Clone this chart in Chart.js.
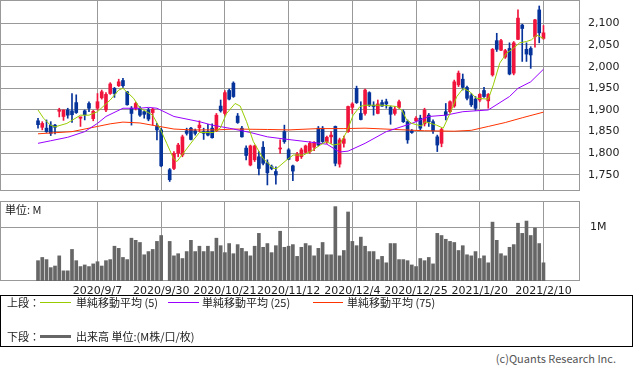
<!doctype html>
<html lang="ja">
<head>
<meta charset="UTF-8">
<title>株価チャート</title>
<script src="https://cdn.jsdelivr.net/npm/chart.js"></script>
<style>
  body { margin: 0; background: #fff; }
  #wrap { position: relative; width: 633px; height: 373px; font-family: "Noto Sans CJK JP", "DejaVu Sans", sans-serif; color: #222; }
  #price { position: absolute; left: 0; top: 0; }
  #volume { position: absolute; left: 0; top: 201px; }
  .txt { position: absolute; font-size: 11px; line-height: 13px; white-space: nowrap; }
  .ln { position: absolute; height: 1px; }
  #legend { position: absolute; left: 0; top: 295px; width: 631px; height: 50px; border: 1px solid #000; }
</style>
</head>
<body>
<div id="wrap">
  <canvas id="price" width="633" height="191"></canvas>
  <canvas id="volume" width="633" height="97"></canvas>
  <div class="txt" style="left:5px; top:203px;">単位: M</div>

  <div id="legend"></div>
  <div class="txt" style="left:7px; top:296px;">上段：</div>
  <div class="ln" style="left:40px; top:302px; width:31px; background:#99cc00;"></div>
  <div class="txt" style="left:76px; top:296px;">単純移動平均 (5)</div>
  <div class="ln" style="left:168px; top:302px; width:31px; background:#9900ff;"></div>
  <div class="txt" style="left:202px; top:296px;">単純移動平均 (25)</div>
  <div class="ln" style="left:313px; top:302px; width:30px; background:#ff3300;"></div>
  <div class="txt" style="left:347px; top:296px;">単純移動平均 (75)</div>
  <div class="txt" style="left:7px; top:330px;">下段：</div>
  <div class="ln" style="left:40px; top:335px; width:31px; height:3px; background:#666;"></div>
  <div class="txt" style="left:76px; top:330px;">出来高 単位:(M株/口/枚)</div>

  <div class="txt" style="right:17px; top:352px; color:#555;">(c)Quants Research Inc.</div>
</div>

<script>
// 日付（取引日、10/1 は売買停止）
const dates = [
  '2020/8/18','2020/8/19','2020/8/20','2020/8/21','2020/8/24','2020/8/25','2020/8/26','2020/8/27','2020/8/28','2020/8/31',
  '2020/9/1','2020/9/2','2020/9/3','2020/9/4','2020/9/7','2020/9/8','2020/9/9','2020/9/10','2020/9/11','2020/9/14',
  '2020/9/15','2020/9/16','2020/9/17','2020/9/18','2020/9/23','2020/9/24','2020/9/25','2020/9/28','2020/9/29','2020/9/30',
  '2020/10/1','2020/10/2','2020/10/5','2020/10/6','2020/10/7','2020/10/8','2020/10/9','2020/10/12','2020/10/13','2020/10/14',
  '2020/10/15','2020/10/16','2020/10/19','2020/10/20','2020/10/21','2020/10/22','2020/10/23','2020/10/26','2020/10/27','2020/10/28',
  '2020/10/29','2020/10/30','2020/11/2','2020/11/4','2020/11/5','2020/11/6','2020/11/9','2020/11/10','2020/11/11','2020/11/12',
  '2020/11/13','2020/11/16','2020/11/17','2020/11/18','2020/11/19','2020/11/20','2020/11/24','2020/11/25','2020/11/26','2020/11/27',
  '2020/11/30','2020/12/1','2020/12/2','2020/12/3','2020/12/4','2020/12/7','2020/12/8','2020/12/9','2020/12/10','2020/12/11',
  '2020/12/14','2020/12/15','2020/12/16','2020/12/17','2020/12/18','2020/12/21','2020/12/22','2020/12/23','2020/12/24','2020/12/25',
  '2020/12/28','2020/12/29','2020/12/30','2021/1/4','2021/1/5','2021/1/6','2021/1/7','2021/1/8','2021/1/12','2021/1/13',
  '2021/1/14','2021/1/15','2021/1/18','2021/1/19','2021/1/20','2021/1/21','2021/1/22','2021/1/25','2021/1/26','2021/1/27',
  '2021/1/28','2021/1/29','2021/2/1','2021/2/2','2021/2/3','2021/2/4','2021/2/5','2021/2/8','2021/2/9','2021/2/10'
];

const open = [1875,1860,1858,1865,1865, 1897,1885,1900,1898,1917, 1881,1898,1915,1880,1904, 1928,1900,1938,1950,1956,
  1968,1942,1904,1904,1904, 1896,1900,1894,1862,1854, null,1762,1765,1800,1796, 1852,1858,1852,1859,1850,
  1850,1858,1852,1909,1892, 1945,1962,1886,1858,1812, 1773,1785,1792,1814,1778, 1769,1758,1810,1850,1808,
  1771,1783,1792,1802,1804, 1814,1858,1858,1827,1838, 1862,1775,1823,1850,1906, 1950,1892,1892,1940,1911,
  1892,1917,1919,1906,1892, 1906,1896,1873,1852,1875, 1881,1868,1888,1873,1838, 1823,1896,1896,1909,1958,
  1971,1952,1933,1925,1923, 1945,1921,1981,2060,2038, 2022,2042,1985,2063,2096, 2040,2042,2069,2131,2065];
const high = [1881,1873,1877,1873,1867, 1904,1900,1904,1938,1935, 1884,1900,1919,1899,1938, 1946,1940,1963,1952,1971,
  1973,1943,1908,1918,1908, 1898,1904,1904,1869,1858, null,1765,1804,1823,1842, 1858,1860,1856,1875,1858,
  1867,1868,1892,1923,1945, 1948,1965,1892,1862,1817, 1819,1819,1804,1827,1785, 1773,1769,1831,1865,1811,
  1773,1802,1812,1819,1827, 1827,1862,1862,1840,1850, 1863,1835,1840,1909,1917, 1955,1919,1948,1942,1919,
  1923,1923,1925,1909,1908, 1923,1900,1877,1855,1885, 1888,1904,1892,1877,1842, 1858,1915,1921,1969,1990,
  1983,1955,1938,1931,1938, 1952,1938,2042,2077,2063, 2040,2055,2058,2131,2098, 2055,2046,2109,2140,2095];
const low = [1858,1854,1848,1841,1845, 1884,1876,1881,1871,1892, 1862,1877,1896,1875,1900, 1925,1896,1936,1929,1954,
  1952,1911,1865,1900,1885, 1881,1875,1865,1831,1769, null,1735,1762,1792,1792, 1842,1831,1842,1850,1832,
  1840,1835,1850,1895,1888, 1923,1929,1869,1837,1785, 1771,1781,1750,1773,1727, 1762,1729,1800,1823,1785,
  1737,1781,1788,1800,1800, 1806,1817,1825,1823,1823, 1771,1768,1814,1848,1892, 1915,1877,1888,1908,1888,
  1891,1908,1904,1867,1888, 1904,1871,1823,1846,1873, 1854,1863,1862,1846,1804, 1815,1877,1893,1906,1954,
  1946,1923,1908,1899,1919, 1929,1904,1978,2035,2037, 2019,1981,1981,2062,2012, 2012,1996,2045,2055,2063];
const close = [1866,1869,1850,1846,1860, 1900,1900,1888,1889,1894, 1884,1889,1904,1897,1919, 1942,1936,1960,1938,1965,
  1956,1912,1892,1915,1888, 1890,1879,1902,1854,1771, null,1739,1800,1819,1838, 1846,1832,1846,1865,1846,
  1842,1836,1888,1898,1940, 1925,1931,1871,1838,1795, 1817,1817,1765,1777,1755, 1765,1750,1812,1827,1786,
  1759,1798,1808,1817,1823, 1825,1819,1827,1837,1842, 1777,1831,1833,1908,1914, 1917,1878,1946,1911,1908,
  1914,1909,1914,1890,1902, 1919,1873,1831,1848,1881, 1858,1900,1873,1852,1819, 1855,1888,1919,1965,1985,
  1952,1927,1912,1904,1936, 1931,1936,2040,2040,2060, 2037,1983,2055,2112,2088, 2029,2027,2108,2078,2078];

// 出来高（M）
const volume = [0.38,0.44,0.40,0.25,0.28,0.47,0.19,0.19,0.59,0.38, 0.27,0.30,0.27,0.32,0.36,0.28,0.38,0.40,0.65,0.61,
  0.44,0.40,0.80,0.76,0.72,0.49,0.55,0.59,0.74,0.85, null,0.74,0.47,0.51,0.42,0.55,0.76,0.55,0.65,0.55,
  0.65,0.55,0.80,0.66,0.53,0.70,0.51,0.68,0.61,0.55, 0.47,0.65,0.89,0.63,0.70,0.53,0.66,0.93,0.63,0.65,
  0.68,0.46,0.63,0.70,0.66,0.47,0.61,0.72,0.49,0.49, 1.39,0.47,0.57,1.29,0.74,0.66,0.82,0.65,0.55,0.55,
  0.40,0.46,0.34,0.70,0.70,0.40,0.40,0.38,0.30,0.27, 0.42,0.38,0.44,0.32,0.89,0.85,0.78,0.74,0.72,0.57,
  0.66,0.49,0.47,0.55,0.42,0.47,0.34,1.10,0.76,0.51, 0.47,0.63,0.68,1.08,0.89,1.12,0.85,0.99,0.70,0.34];

// 移動平均（読み取り位置 = 日のインデックス）
const ma5X = [0,1.3,2.9,4,6.8,10,12,14,17,19,20,22.5,24,25.6,27,28.7,30.3,31.9,32.7,34.2,36.6,38,41.3,42.9,44.4,46.4,47.6,49.1,50.7,53,55.4,56.2,58.6,60.1,62.5,64.8,66.4,67.9,69.5,71.1,72.7,74.2,75.8,77,81.3,84.4,85.6,86.8,88,90.3,91.1,93.8,95.4,97,98.6,100.1,101.7,103.2,106,107.2,108.7,110.3,111.9,113.4,115,116.2,117.4,119];
const ma5Y = [1900,1881,1865,1861,1869,1888,1888,1896,1923,1946,1950,1927,1904,1896,1888,1858,1823,1788,1781,1800,1831,1848,1848,1858,1892,1915,1909,1873,1827,1788,1765,1765,1785,1796,1796,1808,1819,1827,1819,1822,1850,1888,1908,1911,1911,1908,1900,1877,1869,1863,1873,1865,1858,1892,1931,1950,1942,1927,1925,1958,2008,2031,2042,2055,2058,2062,2073,2065];
const ma25X = [0,3,7,11,14,16,20,24,26,28,32,38,41,45,50,54,58,64,68,71,73,77,82,88,92,96,100,103,106,111,113,116,119];
const ma25Y = [1823,1829,1837,1850,1869,1885,1904,1904,1906,1904,1885,1873,1865,1858,1848,1838,1833,1826,1821,1803,1805,1823,1850,1869,1885,1888,1896,1898,1900,1931,1950,1965,1994];
const ma75X = [0,8,14,17,20,24,28,32,36,42,46,54,59,66,72,77,84,91,98,102,106,110,114,119];
const ma75Y = [1845,1850,1862,1868,1872,1870,1863,1856,1854,1854,1856,1855,1854,1857,1857,1858,1855,1852,1851,1853,1862,1871,1882,1895];

const gridDays = [14, 29, 44, 59, 74, 89, 104, 119];
const priceTicks = [1750, 1800, 1850, 1900, 1950, 2000, 2050, 2100];

const RED = '#f0143c';
const BLUE = '#06339a';
const GRID = '#999999';
const X_MIN = -8.95, X_MAX = 127.6;

Chart.defaults.font.family = 'DejaVu Sans';
Chart.defaults.font.size = 11;
Chart.defaults.color = '#222';

// 枠線
const frame = {
    id: 'frame',
    beforeDatasetsDraw(chart) {
        const a = chart.chartArea, c = chart.ctx;
        c.save();
        c.strokeStyle = GRID;
        c.lineWidth = 1;
        c.strokeRect(a.left + 0.5, a.top + 0.5, a.right - a.left - 1, a.bottom - a.top - 1);
        c.restore();
    }
};

// 軸ラベルによる余白を消す
function noPad(a) {
    a.paddingTop = 0; a.paddingBottom = 0; a.paddingLeft = 0; a.paddingRight = 0;
}

const wicks = [], bodies = [], vols = [];
dates.forEach((d, i) => {
    if (open[i] == null) return;
    const up = close[i] >= open[i];
    wicks.push({x: i, y: [low[i], high[i]], up});
    bodies.push({x: i, y: [open[i], close[i]], up});
    vols.push({x: i, y: volume[i]});
});
const pts = (xs, ys) => xs.map((x, k) => ({x, y: ys[k]}));
const candleColor = c => (c.raw && c.raw.up) ? RED : BLUE;

const xScale = (showLabels) => ({
    type: 'linear', min: X_MIN, max: X_MAX, offset: false,
    afterBuildTicks: a => { a.ticks = gridDays.map(v => ({value: v})); },
    afterFit: a => { a.height = showLabels ? 17 : 0; noPad(a); },
    grid: {color: GRID, drawTicks: false, offset: false},
    border: {display: false},
    ticks: {
        display: showLabels, autoSkip: false, maxRotation: 0, padding: 4, color: '#222',
        callback: v => dates[v]
    }
});

new Chart(document.getElementById('price'), {
    type: 'bar',
    data: {
        datasets: [
            {type: 'line', data: pts(ma5X, ma5Y), borderColor: '#99cc00', borderWidth: 1, pointRadius: 0, order: 0},
            {type: 'line', data: pts(ma25X, ma25Y), borderColor: '#9900ff', borderWidth: 1, pointRadius: 0, order: 0},
            {type: 'line', data: pts(ma75X, ma75Y), borderColor: '#ff3300', borderWidth: 1, pointRadius: 0, order: 0},
            {data: bodies, backgroundColor: candleColor, barThickness: 3, minBarLength: 1, grouped: false, order: 1},
            {data: wicks, backgroundColor: candleColor, barThickness: 1, grouped: false, order: 2}
        ]
    },
    options: {
        responsive: false, animation: false, events: [],
        layout: {padding: 0},
        plugins: {legend: {display: false}, tooltip: {enabled: false}},
        scales: {
            x: xScale(false),
            y: {
                position: 'right', min: 1713, max: 2153.8,
                afterBuildTicks: a => { a.ticks = priceTicks.map(v => ({value: v})); },
                afterFit: a => { a.width = 53; noPad(a); },
                grid: {color: GRID, drawTicks: false},
                border: {display: false},
                ticks: {padding: 8, color: '#222', callback: v => v.toLocaleString('en-US')}
            }
        }
    },
    plugins: [frame]
});

new Chart(document.getElementById('volume'), {
    type: 'bar',
    data: {
        datasets: [{data: vols, backgroundColor: '#666666', barThickness: 3, grouped: false}]
    },
    options: {
        responsive: false, animation: false, events: [],
        layout: {padding: 0},
        plugins: {legend: {display: false}, tooltip: {enabled: false}},
        scales: {
            x: xScale(true),
            y: {
                position: 'right', min: 0, max: 1.495,
                afterBuildTicks: a => { a.ticks = [{value: 1}]; },
                afterFit: a => { a.width = 53; noPad(a); },
                grid: {color: GRID, drawTicks: false},
                border: {display: false},
                ticks: {padding: 10, color: '#222', callback: () => '1M'}
            }
        }
    },
    plugins: [frame]
});
</script>
</body>
</html>
